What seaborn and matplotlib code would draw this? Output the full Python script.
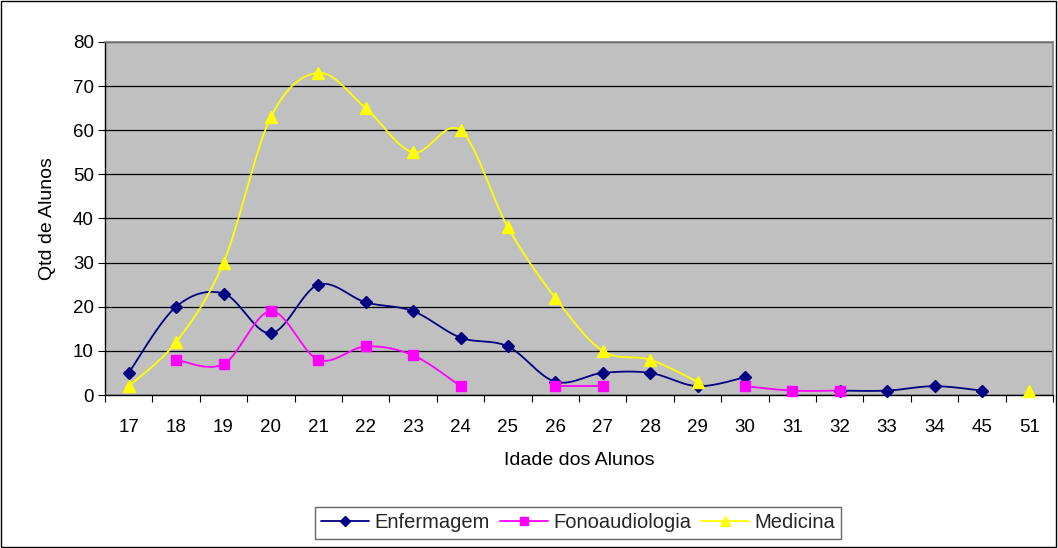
import numpy as np
import pandas as pd
import matplotlib
matplotlib.use("Agg")
import matplotlib.pyplot as plt
import seaborn as sns
from matplotlib.lines import Line2D
from matplotlib.patches import Rectangle

# dados
idades = ["17", "18", "19", "20", "21", "22", "23", "24", "25", "26",
          "27", "28", "29", "30", "31", "32", "33", "34", "45", "51"]
enfermagem = [5, 20, 23, 14, 25, 21, 19, 13, 11, 3,
              5, 5, 2, 4, np.nan, 1, 1, 2, 1, np.nan]
fonoaudiologia = [np.nan, 8, 7, 19, 8, 11, 9, 2, np.nan, 2,
                  2, np.nan, np.nan, 2, 1, 1, np.nan, np.nan, np.nan, np.nan]
medicina = [2, 12, 30, 63, 73, 65, 55, 60, 38, 22,
            10, 8, 3, np.nan, np.nan, np.nan, np.nan, np.nan, np.nan, 1]

series = [
    ("Enfermagem", enfermagem, "#000080", "D", 6.5),
    ("Fonoaudiologia", fonoaudiologia, "#FF00FF", "s", 7),
    ("Medicina", medicina, "#FFFF00", "^", 8.5),
]


def suavizar(xs, ys, n=30):
    # curva tipo Excel (Catmull-Rom em Bezier)
    if len(xs) < 2:
        return np.array(xs), np.array(ys)
    p = np.column_stack([xs, ys]).astype(float)
    pts = np.vstack([p[0], p, p[-1]])
    out = []
    t = np.linspace(0, 1, n)
    for i in range(1, len(pts) - 2):
        p0, p1, p2, p3 = pts[i - 1], pts[i], pts[i + 1], pts[i + 2]
        c1 = p1 + (p2 - p0) / 6
        c2 = p2 - (p3 - p1) / 6
        seg = ((1 - t) ** 3)[:, None] * p1 + (3 * (1 - t) ** 2 * t)[:, None] * c1 \
            + (3 * (1 - t) * t ** 2)[:, None] * c2 + (t ** 3)[:, None] * p2
        out.append(seg if i == 1 else seg[1:])
    out = np.vstack(out)
    return out[:, 0], out[:, 1]


sns.set_theme(style="white")
plt.rcParams["font.family"] = ["Liberation Sans", "DejaVu Sans"]

fig = plt.figure(figsize=(10.58, 5.48), dpi=100)
ax = fig.add_axes([105 / 1058, 1 - 395 / 548, 948 / 1058, 353 / 548])
ax.set_facecolor("#C0C0C0")

x = np.arange(len(idades))
for nome, vals, cor, mk, ms in series:
    df = pd.DataFrame({"x": x, "y": vals})
    grupo = df["y"].isna().cumsum()
    for _, run in df.dropna().groupby(grupo[df["y"].notna()]):
        sx, sy = suavizar(run["x"].values, run["y"].values)
        sns.lineplot(x=sx, y=sy, ax=ax, color=cor, linewidth=1.3,
                     sort=False, estimator=None, zorder=3)
    d = df.dropna()
    ax.plot(d["x"], d["y"], linestyle="none", marker=mk, markersize=ms,
            color=cor, markeredgecolor=cor, zorder=4, clip_on=False)

ax.set_xlim(-0.5, len(idades) - 0.5)
ax.set_ylim(0, 80)
ax.set_yticks(range(0, 81, 10))
ax.set_xticks(x)
ax.set_xticklabels(idades)
ax.set_xticks(np.arange(-0.5, len(idades), 1), minor=True)
ax.tick_params(axis="x", which="major", length=0, pad=17, labelsize=13.5, colors="black")
ax.tick_params(axis="x", which="minor", length=5, width=0.8, color="black", direction="out", bottom=True)
ax.tick_params(axis="y", length=5, width=0.8, direction="out", left=True, labelsize=13.5, colors="black", pad=3)
ax.yaxis.grid(True, color="black", linewidth=0.9)
ax.xaxis.grid(False)
ax.set_axisbelow(True)
for lado in ["top", "right"]:
    ax.spines[lado].set_color("#808080")
    ax.spines[lado].set_linewidth(1.2)
for lado in ["left", "bottom"]:
    ax.spines[lado].set_color("black")
    ax.spines[lado].set_linewidth(1.0)

ax.set_xlabel("Idade dos Alunos", fontsize=14, labelpad=12, color="black")
ax.set_ylabel("Qtd de Alunos", fontsize=14, labelpad=12, color="black")

handles = [Line2D([0], [0], color=c, marker=m, markersize=s * 0.85, linewidth=1.3,
                  markeredgecolor=c) for _, _, c, m, s in series]
leg = fig.legend(handles, [s[0] for s in series], loc="center",
                 bbox_to_anchor=(578 / 1058, 1 - 523 / 548), ncol=3,
                 frameon=True, fancybox=False, fontsize=14.5, handlelength=2.4,
                 columnspacing=0.5, handletextpad=0.25, borderpad=0.3,
                 borderaxespad=0)
leg.get_frame().set_edgecolor("#404040")
leg.get_frame().set_linewidth(1.0)

fig.patches.append(Rectangle((0.0005, 0.001), 0.998, 0.997, transform=fig.transFigure,
                             fill=False, edgecolor="black", linewidth=1.0))

fig.savefig("out.png", dpi=100, facecolor="white")
